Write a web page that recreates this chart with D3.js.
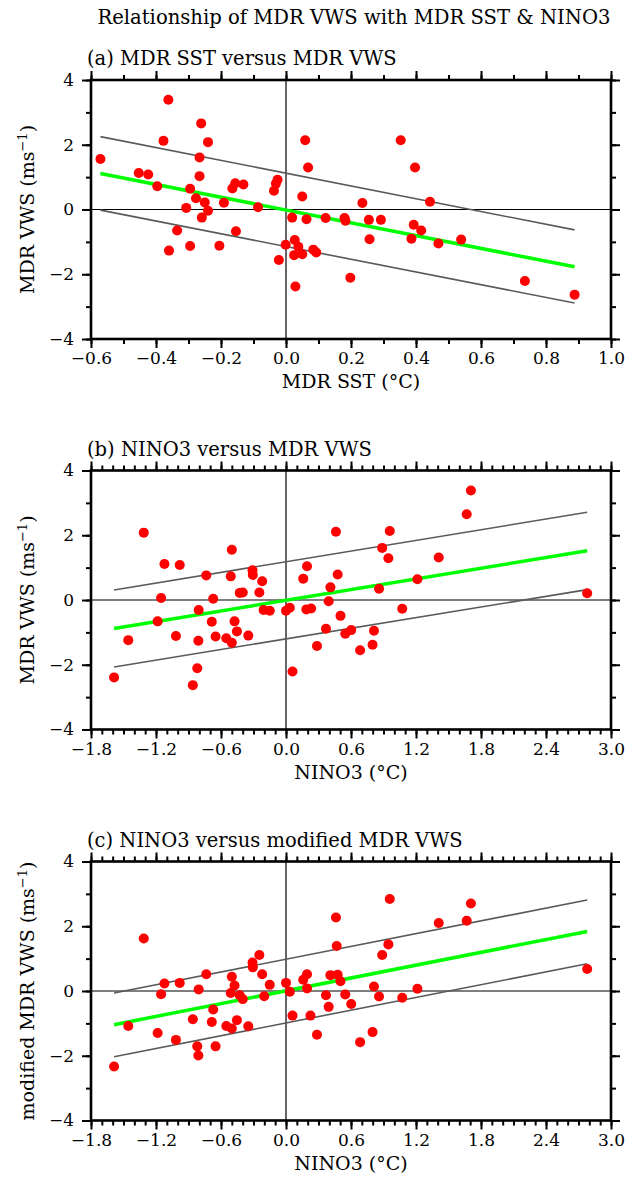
<!DOCTYPE html>
<html>
<head>
<meta charset="utf-8">
<script src="https://cdn.jsdelivr.net/npm/d3@7"></script>
<style>
body{margin:0;background:#fff;}
svg text{font-family:"DejaVu Serif",serif;fill:#000;}
</style>
</head>
<body>
<div id="plot"></div>
<script>
// values

// (a) MDR SST vs MDR VWS
var sstA = [-0.571,-0.362,-0.261,-0.377,-0.240,-0.266,-0.453,-0.424,-0.266,-0.396,
	-0.295,-0.277,-0.250,-0.307,-0.240,-0.259,-0.335,-0.360,-0.295,-0.205,
	-0.154,-0.191,-0.165,-0.156,-0.131,-0.086,-0.037,-0.031,-0.026,-0.022,
	-0.001,0.019,0.027,0.038,0.025,0.050,0.029,0.050,0.059,0.068,
	0.063,0.084,0.093,0.122,0.180,0.183,0.198,0.235,0.255,0.257,
	0.292,0.353,0.397,0.393,0.386,0.416,0.443,0.469,0.539,0.735,0.888];
var vwsA = [1.56,3.39,2.66,2.12,2.08,1.61,1.13,1.08,1.03,0.72,
	0.64,0.35,0.22,0.05,-0.04,-0.25,-0.65,-1.27,-1.13,-1.12,
	-0.67,0.21,0.65,0.81,0.77,0.07,0.58,0.80,0.92,-1.56,
	-1.09,-0.25,-0.94,-1.15,-1.41,-1.38,-2.38,0.40,2.14,1.30,
	-0.30,-1.24,-1.33,-0.26,-0.26,-0.35,-2.11,0.20,-0.32,-0.92,
	-0.32,2.14,1.30,-0.47,-0.90,-0.65,0.24,-1.05,-0.93,-2.21,-2.63];
// fit line and band ends
var fitAx = [-0.571, 0.888];
var fitAmid = [1.11, -1.77];
var fitAhi = [2.25, -0.63];
var fitAlo = [-0.02, -2.89];

// (b) NINO3 vs MDR VWS
var ninoB = [-1.313,-1.122,-0.981,-0.500,-0.736,-0.510,-0.309,-0.306,-0.220,-0.427,
	-0.399,-0.246,-1.153,-0.672,-0.806,-1.185,-0.685,-0.475,-0.207,-0.150,
	-1.456,-1.016,-0.809,-0.650,-0.551,-0.500,-0.453,-0.348,-1.587,-0.819,
	-0.860,0.000,0.035,0.060,0.159,0.194,0.188,0.232,0.286,0.369,
	0.394,0.410,0.461,0.477,0.503,0.547,0.602,0.684,0.799,0.812,
	0.859,0.888,0.945,0.958,1.073,1.213,1.410,1.668,1.707,2.780];
var vwsB = [2.08,1.11,1.08,1.55,0.76,0.73,0.92,0.77,0.58,0.22,
	0.23,0.23,0.06,0.04,-0.31,-0.66,-0.67,-0.66,-0.31,-0.33,
	-1.24,-1.11,-1.26,-1.13,-1.18,-1.32,-0.97,-1.10,-2.39,-2.11,
	-2.63,-0.33,-0.24,-2.21,0.66,1.04,-0.29,-0.26,-1.42,-0.89,
	-0.04,0.39,2.11,0.79,-0.49,-1.04,-0.93,-1.55,-1.38,-0.95,
	0.35,1.61,1.29,2.13,-0.27,0.64,1.31,2.65,3.38,0.21];
var fitBx = [-1.587, 2.780];
var fitBmid = [-0.88, 1.52];
var fitBhi = [0.31, 2.71];
var fitBlo = [-2.07, 0.32];

// (c) NINO3 vs modified MDR VWS
var ninoC = [-1.313,-1.587,-1.456,-1.185,-1.122,-1.153,-0.981,-1.016,-0.860,-0.819,
	-0.809,-0.806,-0.736,-0.672,-0.685,-0.650,-0.551,-0.500,-0.453,-0.348,
	-0.500,-0.475,-0.510,-0.427,-0.399,-0.309,-0.306,-0.246,-0.220,-0.150,
	-0.201,0.000,0.035,0.060,0.159,0.194,0.194,0.226,0.286,0.369,
	0.394,0.410,0.461,0.477,0.468,0.503,0.547,0.602,0.684,0.799,
	0.812,0.859,0.888,0.945,0.958,1.073,1.213,1.410,1.668,1.707,2.780];
var modVwsC = [1.62,-2.33,-1.08,-1.30,0.23,-0.10,0.25,-1.51,-0.87,-1.71,
	-1.99,0.05,0.52,-0.57,-0.96,-1.71,-1.08,-1.16,-0.90,-1.09,
	0.44,0.17,-0.06,-0.13,-0.25,0.88,0.73,1.11,0.52,0.19,
	-0.16,0.25,-0.02,-0.76,0.35,0.52,0.08,-0.76,-1.35,-0.13,
	-0.49,0.49,2.27,0.50,1.39,0.30,-0.11,-0.40,-1.58,-1.27,
	0.14,-0.17,1.11,1.44,2.84,-0.21,0.07,2.10,2.17,2.70,0.68];
var fitCx = [-1.587, 2.780];
var fitCmid = [-1.04, 1.84];
var fitChi = [-0.06, 2.81];
var fitClo = [-2.03, 0.84];

// axis ticks
var sstMajor = [-0.6,-0.4,-0.2,0,0.2,0.4,0.6,0.8,1.0];
var sstMinor = d3.range(-6,11).map(function(d){return d/10});
var ninoMajor = [-1.8,-1.2,-0.6,0,0.6,1.2,1.8,2.4,3.0];
var ninoMinor = d3.range(-18,31).map(function(d){return d/10});
var vwsMajor = [-4,-2,0,2,4];
var vwsMinor = [-4,-3,-2,-1,0,1,2,3,4];

var panels = [
	{title:'(a) MDR SST versus MDR VWS', xdom:[-0.6,1.0], xs:sstA, ys:vwsA,
	 major:sstMajor, minor:sstMinor, xlab:'MDR SST (°C)', ylab:'MDR VWS (ms',
	 fx:fitAx, mid:fitAmid, hi:fitAhi, lo:fitAlo},
	{title:'(b) NINO3 versus MDR VWS', xdom:[-1.8,3.0], xs:ninoB, ys:vwsB,
	 major:ninoMajor, minor:ninoMinor, xlab:'NINO3 (°C)', ylab:'MDR VWS (ms',
	 fx:fitBx, mid:fitBmid, hi:fitBhi, lo:fitBlo},
	{title:'(c) NINO3 versus modified MDR VWS', xdom:[-1.8,3.0], xs:ninoC, ys:modVwsC,
	 major:ninoMajor, minor:ninoMinor, xlab:'NINO3 (°C)', ylab:'modified MDR VWS (ms',
	 fx:fitCx, mid:fitCmid, hi:fitChi, lo:fitClo}
];

var W = 627, H = 1196;
var left = 91, pw = 520, ph = 259;
var tops = [80, 470.5, 861.5];

var svg = d3.select('#plot').append('svg')
	.attr('width',W)
	.attr('height',H);

svg.append('text')
	.attr('x',354)
	.attr('y',24)
	.attr('text-anchor','middle')
	.style('font-size','19.6px')
	.text('Relationship of MDR VWS with MDR SST & NINO3');

panels.forEach(function(p,i){

	var g = svg.append('g')
		.attr('transform','translate('+left+','+tops[i]+')');

	var x = d3.scaleLinear().domain(p.xdom).range([0,pw]);
	var y = d3.scaleLinear().domain([-4,4]).range([ph,0]);

	// zero lines
	g.append('line').attr('x1',0).attr('x2',pw).attr('y1',y(0)).attr('y2',y(0))
		.attr('stroke','#000').attr('stroke-width',1.2);
	g.append('line').attr('x1',x(0)).attr('x2',x(0)).attr('y1',0).attr('y2',ph)
		.attr('stroke','#000').attr('stroke-width',1.2);

	// fit and band
	var line = d3.line()
		.x(function(d){return x(d[0])})
		.y(function(d){return y(d[1])});

	[p.hi,p.lo].forEach(function(b){
		g.append('path')
			.attr('d', line(d3.zip(p.fx,b)))
			.attr('fill','none')
			.attr('stroke','#5a5a5a')
			.attr('stroke-width',1.6);
	});

	g.append('path')
		.attr('d', line(d3.zip(p.fx,p.mid)))
		.attr('fill','none')
		.attr('stroke','#00ff00')
		.attr('stroke-width',3.5);

	// points
	g.selectAll('.dot')
		.data(d3.zip(p.xs,p.ys))
		.enter()
		.append('circle')
		.attr('class','dot')
		.attr('cx',function(d){return x(d[0])})
		.attr('cy',function(d){return y(d[1])})
		.attr('r',5)
		.attr('fill','#ff0000');

	// ticks, all pointing outward
	var fmtX = d3.format('.1f');
	g.append('g').attr('transform','translate(0,'+ph+')')
		.call(d3.axisBottom(x).tickValues(p.major).tickSize(9).tickPadding(4).tickFormat(fmtX));
	g.append('g').attr('transform','translate(0,'+ph+')')
		.call(d3.axisBottom(x).tickValues(p.minor).tickSize(5).tickFormat(''));
	g.append('g')
		.call(d3.axisTop(x).tickValues(p.major).tickSize(9).tickFormat(''));
	g.append('g')
		.call(d3.axisTop(x).tickValues(p.minor).tickSize(5).tickFormat(''));
	g.append('g')
		.call(d3.axisLeft(y).tickValues(vwsMajor).tickSize(9).tickPadding(8).tickFormat(d3.format('d')));
	g.append('g')
		.call(d3.axisLeft(y).tickValues(vwsMinor).tickSize(5).tickFormat(''));
	g.append('g').attr('transform','translate('+pw+',0)')
		.call(d3.axisRight(y).tickValues(vwsMajor).tickSize(9).tickFormat(''));
	g.append('g').attr('transform','translate('+pw+',0)')
		.call(d3.axisRight(y).tickValues(vwsMinor).tickSize(5).tickFormat(''));

	g.selectAll('.domain').remove();
	g.selectAll('.tick line').attr('stroke','#000').attr('stroke-width',2);
	g.selectAll('.tick text')
		.style('font-family','"DejaVu Serif",serif')
		.style('font-size','17px')
		.attr('fill','#000');

	// frame
	g.append('rect')
		.attr('width',pw)
		.attr('height',ph)
		.attr('fill','none')
		.attr('stroke','#000')
		.attr('stroke-width',2.6);

	// labels
	g.append('text')
		.attr('x',-4)
		.attr('y',-15)
		.style('font-size','19.5px')
		.text(p.title);

	g.append('text')
		.attr('x',pw/2)
		.attr('y',ph+49)
		.attr('text-anchor','middle')
		.style('font-size','19px')
		.text(p.xlab);

	var yl = g.append('text')
		.attr('transform','translate(-57,'+ph/2+') rotate(-90)')
		.attr('text-anchor','middle')
		.style('font-size','19px');
	yl.append('tspan').text(p.ylab);
	yl.append('tspan').attr('dy',-7).style('font-size','13px').text('−1');
	yl.append('tspan').attr('dy',7).text(')');
});

</script>
</body>
</html>
